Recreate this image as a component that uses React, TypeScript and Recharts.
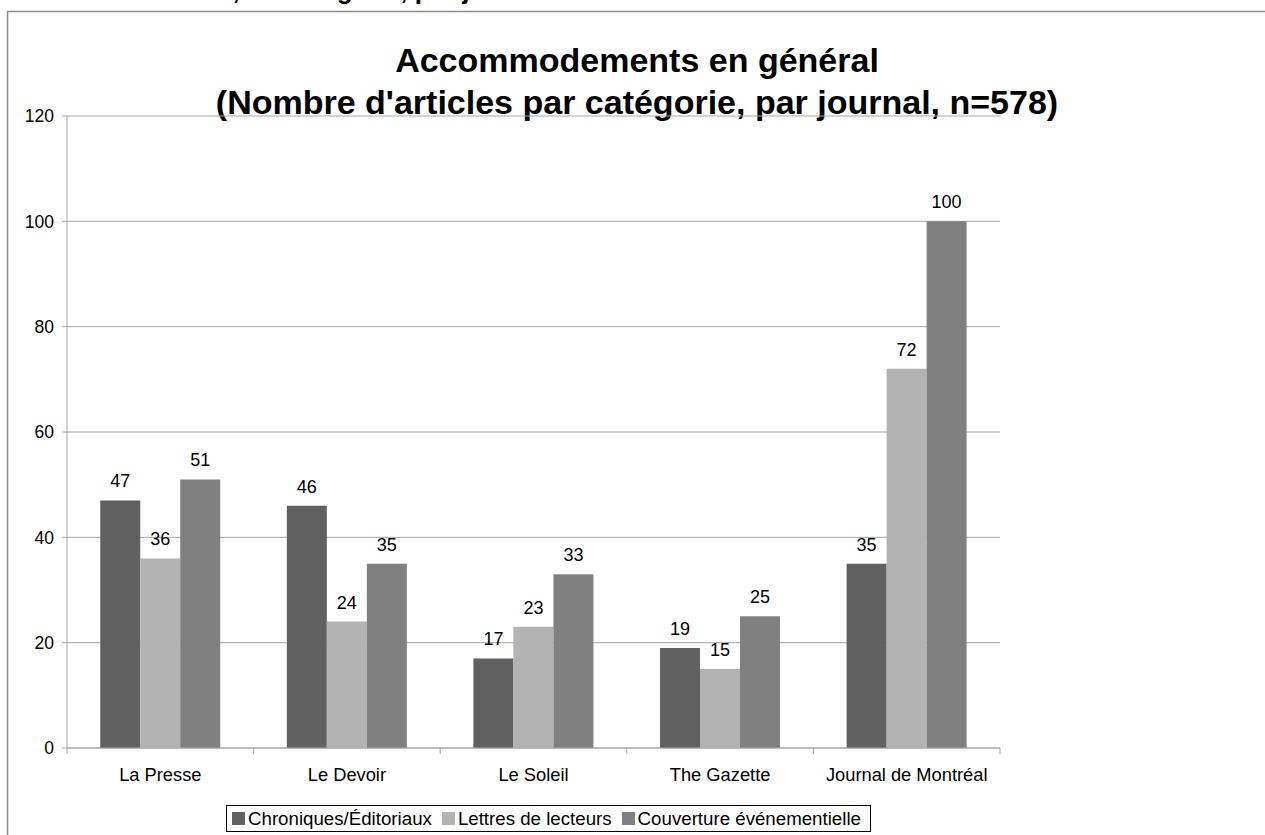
import React from "react";
import { BarChart, Bar, XAxis, YAxis, CartesianGrid, Legend, LabelList } from "recharts";

const categories = ["La Presse", "Le Devoir", "Le Soleil", "The Gazette", "Journal de Montréal"];
const chroniques = [47, 46, 17, 19, 35];
const lettres = [36, 24, 23, 15, 72];
const couverture = [51, 35, 33, 25, 100];
const yTicks = [0, 20, 40, 60, 80, 100, 120];
const seriesNames = ["Chroniques/Éditoriaux", "Lettres de lecteurs", "Couverture événementielle"];
const seriesColors = ["#616161", "#b3b3b3", "#808080"];
const titleLines = ["Accommodements en général", "(Nombre d'articles par catégorie, par journal, n=578)"];
const clippedHeader = "Accommodements, en catégorie, par journal";

const data = categories.map((name, i) => ({
  name,
  chroniques: chroniques[i],
  lettres: lettres[i],
  couverture: couverture[i],
}));

const FONT = "'Liberation Sans', Arial, sans-serif";
const AXIS = "#a6a6a6";

const CategoryTick = (props: any) => {
  const { x, y, payload, index, width, visibleTicksCount } = props;
  const band = width && visibleTicksCount ? width / visibleTicksCount : 186.6;
  return (
    <g>
      <line x1={x - band / 2} x2={x - band / 2} y1={y} y2={y + 6} stroke={AXIS} />
      {index === visibleTicksCount - 1 && (
        <line x1={x + band / 2} x2={x + band / 2} y1={y} y2={y + 6} stroke={AXIS} />
      )}
      <text x={x} y={y + 33} textAnchor="middle" fontSize={18.3} fill="#000" fontFamily={FONT}>
        {payload.value}
      </text>
    </g>
  );
};

const renderLegend = () => (
  <div
    style={{
      display: "flex",
      alignItems: "center",
      border: "1px solid #000",
      height: 25,
      padding: "0 9px 0 5px",
      fontFamily: FONT,
      fontSize: 18.7,
      color: "#000",
      background: "#fff",
      whiteSpace: "nowrap",
    }}
  >
    {seriesNames.map((n, i) => (
      <span key={n} style={{ display: "flex", alignItems: "center", marginRight: i < 2 ? 10 : 0 }}>
        <span style={{ display: "inline-block", width: 13, height: 13, background: seriesColors[i], marginRight: 3 }} />
        {n}
      </span>
    ))}
  </div>
);

export default function App() {
  return (
    <div style={{ position: "absolute", left: 0, top: 0, width: 1265, height: 835, background: "#fff", overflow: "hidden" }}>
      <svg width={1265} height={835} style={{ position: "absolute", left: 0, top: 0 }}>
        <text x={0} y={-1} fontFamily={FONT} fontWeight="bold" fontSize={26} fill="#000">
          {clippedHeader}
        </text>
        <rect x={7.5} y={11.5} width={1300} height={900} fill="none" stroke="#8c8c8c" strokeWidth={1.5} />
        {titleLines.map((t, i) => (
          <text
            key={i}
            x={637}
            y={72 + i * 42}
            textAnchor="middle"
            fontFamily={FONT}
            fontWeight="bold"
            fontSize={34}
            fill="#000"
          >
            {t}
          </text>
        ))}
      </svg>
      <div style={{ position: "absolute", left: 0, top: 0 }}>
        <BarChart
          width={1265}
          height={835}
          data={data}
          margin={{ top: 116, right: 265, bottom: 0, left: 7 }}
          barCategoryGap="17.8%"
          barGap={0}
        >
          <CartesianGrid vertical={false} stroke={AXIS} />
          <XAxis
            dataKey="name"
            height={60}
            interval={0}
            tickLine={false}
            tickSize={0}
            tickMargin={0}
            axisLine={{ stroke: AXIS }}
            tick={<CategoryTick />}
          />
          <YAxis
            width={60}
            domain={[0, 120]}
            ticks={yTicks}
            interval={0}
            tickSize={5}
            tickMargin={8}
            axisLine={{ stroke: AXIS }}
            tickLine={{ stroke: AXIS }}
            tick={{ fontSize: 17.5, fill: "#000", fontFamily: FONT }}
          />
          <Legend
            layout="vertical"
            align="center"
            verticalAlign="bottom"
            content={renderLegend}
            wrapperStyle={{ position: "absolute", left: 226, top: 805, width: "auto", height: "auto", bottom: "auto" }}
          />
          <Bar dataKey="chroniques" name={seriesNames[0]} fill={seriesColors[0]} isAnimationActive={false}>
            <LabelList dataKey="chroniques" position="top" offset={13} fill="#000" fontSize={18} fontFamily={FONT} />
          </Bar>
          <Bar dataKey="lettres" name={seriesNames[1]} fill={seriesColors[1]} isAnimationActive={false}>
            <LabelList dataKey="lettres" position="top" offset={13} fill="#000" fontSize={18} fontFamily={FONT} />
          </Bar>
          <Bar dataKey="couverture" name={seriesNames[2]} fill={seriesColors[2]} isAnimationActive={false}>
            <LabelList dataKey="couverture" position="top" offset={13} fill="#000" fontSize={18} fontFamily={FONT} />
          </Bar>
        </BarChart>
      </div>
    </div>
  );
}
